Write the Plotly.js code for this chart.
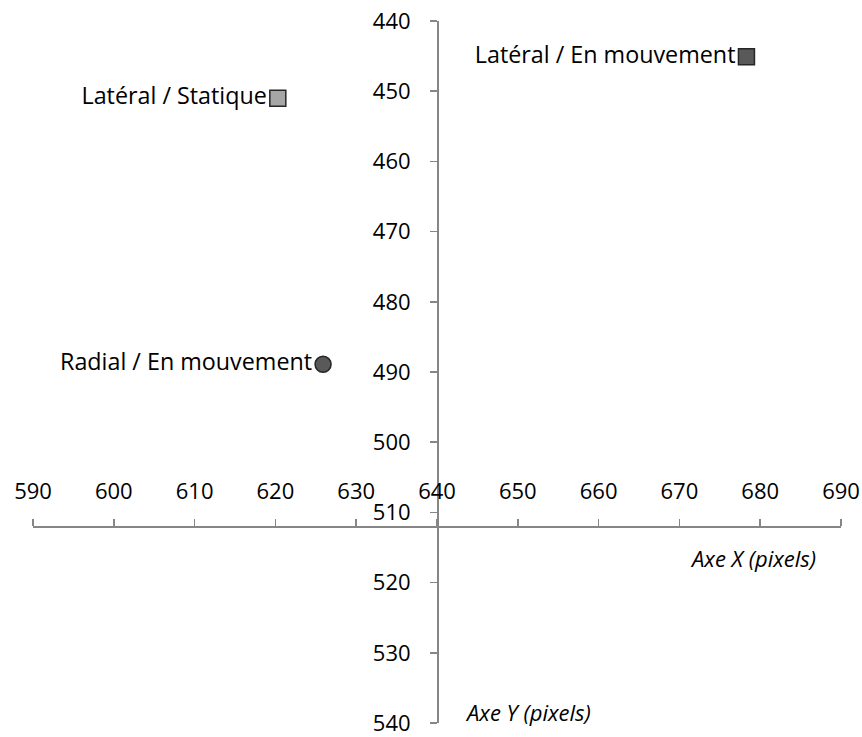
<!DOCTYPE html>
<html><head><meta charset="utf-8">
<script src="https://cdn.plot.ly/plotly-3.0.1.min.js"></script>
<style>html,body{margin:0;padding:0;background:#fff}</style>
</head><body><div id="chart" style="width:862px;height:737px"></div>
<script>
const labels = ["Latéral / Statique", "Latéral / En mouvement", "Radial / En mouvement"];
const xValues = [620.3, 678.3, 625.9];
const yValues = [451.0, 445.1, 488.9];
const xTicks = [590, 600, 610, 620, 630, 640, 650, 660, 670, 680, 690];
const yTicks = [440, 450, 460, 470, 480, 490, 500, 510, 520, 530, 540];
const xTitle = "Axe X (pixels)";
const yTitle = "Axe Y (pixels)";

const labelFont = {family: "Open Sans, sans-serif", size: 23.3, color: "#000"};
const tickFont = {family: "Open Sans, sans-serif", size: 22, color: "#000"};
const titleFont = {family: "Open Sans, sans-serif", size: 22, color: "#000", style: "italic"};
const symbols = ["square", "square", "circle"];
const fills = ["#a6a6a6", "#595959", "#595959"];

const traces = labels.map((lab, i) => ({
  type: "scatter", mode: "markers+text",
  x: [xValues[i]], y: [yValues[i]], text: [lab],
  textposition: "middle left",
  textfont: labelFont,
  marker: {symbol: symbols[i], size: 16, color: fills[i], line: {color: "#262626", width: 1.5}},
  showlegend: false, hoverinfo: "skip", cliponaxis: false
}));

const axisCommon = {
  showgrid: false, zeroline: false, showline: true,
  linecolor: "#868686", linewidth: 1.5,
  ticks: "outside", ticklen: 7, tickwidth: 1.5, tickcolor: "#868686",
  tickfont: tickFont, automargin: false, ticklabeloverflow: "allow"
};

const layout = {
  width: 862, height: 737,
  margin: {l: 32.7, r: 21.3, t: 21, b: 14},
  paper_bgcolor: "#fff", plot_bgcolor: "#fff",
  xaxis: Object.assign({}, axisCommon, {
    range: [590, 690], tickvals: xTicks, ticktext: xTicks.map(String),
    anchor: "free", position: 0.28, side: "top", ticklabelstandoff: 12
  }),
  yaxis: Object.assign({}, axisCommon, {
    range: [540, 440], tickvals: yTicks, ticktext: yTicks.map(String),
    anchor: "free", position: 0.5, side: "left", ticklabelstandoff: 15
  }),
  annotations: [
    {text: xTitle, xref: "paper", yref: "paper", x: 0.972, y: 0.235, xanchor: "right", yanchor: "middle",
     showarrow: false, font: titleFont},
    {text: yTitle, xref: "paper", yref: "paper", x: 0.5325, y: 0.016, xanchor: "left", yanchor: "middle",
     showarrow: false, font: titleFont}
  ]
};

Plotly.newPlot("chart", traces, layout, {staticPlot: true, displayModeBar: false});
</script></body></html>
